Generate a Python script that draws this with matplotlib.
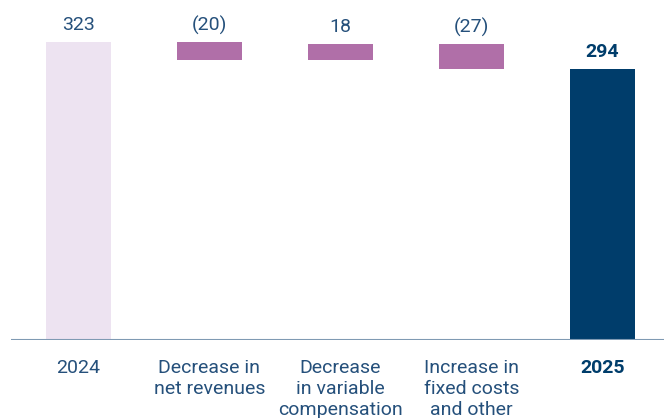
import matplotlib
matplotlib.use("Agg")
import matplotlib.pyplot as plt

categories = ["2024", "Decrease in\nnet revenues", "Decrease\nin variable\ncompensation", "Increase in\nfixed costs\nand other", "2025"]
start_total = 323
changes = [-20, 18, -27]
end_total = 294
value_labels = ["323", "(20)", "18", "(27)", "294"]

plt.rcParams['font.family'] = ['Roboto', 'DejaVu Sans']

W, H = 664, 418
fig = plt.figure(figsize=(W / 100, H / 100), dpi=100)
ax = fig.add_axes([11 / W, 78 / H, 653 / W, 340 / H])
ax.set_xlim((11 - 78.5) / 131, (664 - 78.5) / 131)
ax.set_ylim(0, 340 / 0.923)
ax.axis('off')

txt = "#25507b"
lav = "#ede3f1"
pur = "#b06fa8"
navy = "#003d6b"
bw = 65 / 131

# bars
ax.bar(0, start_total, width=bw, color=lav)
level = start_total
tops = [start_total]
for i, c in enumerate(changes, start=1):
    lo = min(level, level + c)
    ax.bar(i, abs(c), bottom=lo, width=bw, color=pur)
    tops.append(max(level, level + c))
    level += c
ax.bar(4, end_total, width=bw, color=navy)
tops.append(end_total)

ax.axhline(0, color="#7f9ab3", lw=1.5)

for i, (t, lab) in enumerate(zip(tops, value_labels)):
    bold = i == 4
    ax.text(i, t + 18, lab, ha='center', va='center', fontsize=14,
            color=navy if bold else txt, fontweight='bold' if bold else 'normal')

for i, cat in enumerate(categories):
    bold = i == 4
    ax.text(i, -21, cat, ha='center', va='top', fontsize=14,
            color=navy if bold else txt, fontweight='bold' if bold else 'normal',
            linespacing=1.2, clip_on=False)

fig.savefig("out.png", dpi=100)
